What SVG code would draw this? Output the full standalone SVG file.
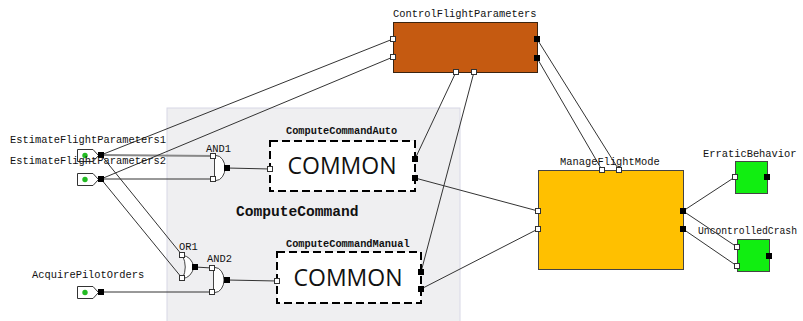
<svg xmlns="http://www.w3.org/2000/svg" width="803" height="321" viewBox="0 0 803 321">
  <style>
    .lbl { font-family: "Liberation Mono", "Courier New", monospace; font-size: 10.4px; fill: #111; }
    .blbl { font-family: "Liberation Mono", "Courier New", monospace; font-size: 10.3px; font-weight: bold; fill: #111; }
    .big { font-family: "Liberation Mono", "Courier New", monospace; font-size: 14.6px; font-weight: bold; fill: #111; }
    .common { font-family: "Open Sans", "Liberation Sans", sans-serif; font-size: 23px; fill: #111; text-anchor: middle; }
    .pi { fill: #fff; stroke: #333; stroke-width: 1; }
    .po { fill: #000; stroke: none; }
    .wire { fill: none; stroke: #333; stroke-width: 1; }
    .gate { fill: #fff; stroke: #444; stroke-width: 1; }
    .src { fill: #fff; stroke: #333; stroke-width: 1; }
    .dashbox { fill: #fff; stroke: #000; stroke-width: 2; stroke-dasharray: 8 4; }
  </style>

  <rect width="803" height="321" fill="#fff"/>

  <!-- container region -->
  <g id="ComputeCommand">
    <rect x="167" y="108" width="293" height="222" fill="#efeff1" stroke="#d8d8e6" stroke-width="1"/>
    <text class="big" x="236" y="216">ComputeCommand</text>
  </g>

  <!-- connectors -->
  <g id="connectors">
    <line x1="101" y1="155" x2="213" y2="156" stroke="#888" stroke-width="2"/>
    <line class="wire" x1="101" y1="155" x2="393" y2="39"/>
    <line class="wire" x1="101" y1="155" x2="182" y2="255"/>
    <line class="wire" x1="101" y1="179" x2="213" y2="179"/>
    <line class="wire" x1="101" y1="179" x2="393" y2="57"/>
    <line class="wire" x1="101" y1="179" x2="182" y2="278"/>
    <line class="wire" x1="101" y1="292" x2="212" y2="292"/>
    <line class="wire" x1="195" y1="267" x2="212" y2="268"/>
    <line class="wire" x1="227" y1="168" x2="270" y2="169"/>
    <line class="wire" x1="227" y1="280" x2="277" y2="281"/>
    <line class="wire" x1="456" y1="72" x2="415" y2="159"/>
    <line class="wire" x1="474" y1="72" x2="421" y2="272"/>
    <line class="wire" x1="415" y1="178" x2="538" y2="211"/>
    <line class="wire" x1="421" y1="289" x2="538" y2="229"/>
    <line class="wire" x1="537" y1="39" x2="619" y2="170"/>
    <line class="wire" x1="537" y1="58" x2="602" y2="170"/>
    <line class="wire" x1="683" y1="211" x2="735" y2="177"/>
    <line class="wire" x1="683" y1="211" x2="737" y2="247"/>
    <line class="wire" x1="683" y1="229" x2="737" y2="266"/>
  </g>

  <!-- sources -->
  <g id="EstimateFlightParameters1">
    <text class="lbl" x="10" y="143">EstimateFlightParameters1</text>
    <path class="src" d="M77.5,149.5 H93 L98.5,155.5 L93,161.5 H77.5 Z"/>
    <circle cx="85" cy="155.5" r="2.7" fill="#22bb22"/>
    <rect class="po" x="98" y="152" width="6" height="6"/>
  </g>
  <g id="EstimateFlightParameters2">
    <text class="lbl" x="10" y="164">EstimateFlightParameters2</text>
    <path class="src" d="M77.5,173.5 H93 L98.5,179.5 L93,185.5 H77.5 Z"/>
    <circle cx="85" cy="179.5" r="2.7" fill="#22bb22"/>
    <rect class="po" x="98" y="176" width="6" height="6"/>
  </g>
  <g id="AcquirePilotOrders">
    <text class="lbl" x="32" y="278">AcquirePilotOrders</text>
    <path class="src" d="M77.5,286.5 H93 L98.5,292.5 L93,298.5 H77.5 Z"/>
    <circle cx="85" cy="292.5" r="2.7" fill="#22bb22"/>
    <rect class="po" x="98" y="289" width="6" height="6"/>
  </g>

  <!-- gates -->
  <g id="AND1">
    <text class="lbl" x="206" y="152">AND1</text>
    <path class="gate" d="M214.5,155.5 H216 A9,12.5 0 0 1 216,180.5 H214.5 Z"/>
    <rect class="pi" x="210.5" y="153.5" width="5" height="5"/>
    <rect class="pi" x="210.5" y="176.5" width="5" height="5"/>
    <rect class="po" x="224" y="165" width="6" height="6"/>
  </g>
  <g id="OR1">
    <text class="lbl" x="179" y="250">OR1</text>
    <path class="gate" d="M182.5,255.5 Q191,256 194,267 Q191,278 182.5,278.5 Q188,267 182.5,255.5 Z"/>
    <rect class="pi" x="179.5" y="252.5" width="5" height="5"/>
    <rect class="pi" x="179.5" y="275.5" width="5" height="5"/>
    <rect class="po" x="192" y="264" width="6" height="6"/>
  </g>
  <g id="AND2">
    <text class="lbl" x="207" y="262">AND2</text>
    <path class="gate" d="M213.5,267.5 H215 A9,12.5 0 0 1 215,292.5 H213.5 Z"/>
    <rect class="pi" x="209.5" y="265.5" width="5" height="5"/>
    <rect class="pi" x="209.5" y="289.5" width="5" height="5"/>
    <rect class="po" x="224" y="277" width="6" height="6"/>
  </g>

  <!-- compute command sub-blocks -->
  <g id="ComputeCommandAuto">
    <text class="blbl" x="286" y="134">ComputeCommandAuto</text>
    <rect class="dashbox" x="270" y="141" width="145" height="50"/>
    <text class="common" x="342" y="174">COMMON</text>
    <rect class="pi" x="267.5" y="166.5" width="5" height="5"/>
    <rect class="po" x="412" y="156" width="6" height="6"/>
    <rect class="po" x="412" y="175" width="6" height="6"/>
  </g>
  <g id="ComputeCommandManual">
    <text class="blbl" x="286" y="247">ComputeCommandManual</text>
    <rect class="dashbox" x="277" y="252" width="144" height="51"/>
    <text class="common" x="348" y="286">COMMON</text>
    <rect class="pi" x="274.5" y="278.5" width="5" height="5"/>
    <rect class="po" x="418" y="269" width="6" height="6"/>
    <rect class="po" x="418" y="286" width="6" height="6"/>
  </g>

  <!-- main blocks -->
  <g id="ControlFlightParameters">
    <text class="lbl" x="393" y="17">ControlFlightParameters</text>
    <rect x="393.5" y="22.5" width="144" height="50" fill="#c55a11" stroke="#3a2410" stroke-width="1"/>
    <rect class="pi" x="390.5" y="36.5" width="5" height="5"/>
    <rect class="pi" x="390.5" y="54.5" width="5" height="5"/>
    <rect class="pi" x="453.5" y="69.5" width="5" height="5"/>
    <rect class="pi" x="471.5" y="69.5" width="5" height="5"/>
    <rect class="po" x="534" y="36" width="6" height="6"/>
    <rect class="po" x="534" y="55" width="6" height="6"/>
  </g>
  <g id="ManageFlightMode">
    <text class="lbl" x="560" y="165">ManageFlightMode</text>
    <rect x="538.5" y="170.5" width="145" height="99" fill="#ffc000" stroke="#444" stroke-width="1"/>
    <rect class="pi" x="599.5" y="167.5" width="5" height="5"/>
    <rect class="pi" x="616.5" y="167.5" width="5" height="5"/>
    <rect class="pi" x="535.5" y="208.5" width="5" height="5"/>
    <rect class="pi" x="535.5" y="226.5" width="5" height="5"/>
    <rect class="po" x="680" y="208" width="6" height="6"/>
    <rect class="po" x="680" y="226" width="6" height="6"/>
  </g>
  <g id="ErraticBehavior">
    <text class="lbl" x="703" y="157">ErraticBehavior</text>
    <rect x="735.5" y="161.5" width="32" height="32" fill="#11ee11" stroke="#444" stroke-width="1"/>
    <rect class="pi" x="732.5" y="174.5" width="5" height="5"/>
    <rect class="po" x="764" y="174" width="6" height="6"/>
  </g>
  <g id="UncontrolledCrash">
    <text class="lbl" x="698" y="234" textLength="99" lengthAdjust="spacingAndGlyphs">UncontrolledCrash</text>
    <rect x="737.5" y="239.5" width="32" height="32" fill="#11ee11" stroke="#444" stroke-width="1"/>
    <rect class="pi" x="734.5" y="244.5" width="5" height="5"/>
    <rect class="pi" x="734.5" y="263.5" width="5" height="5"/>
    <rect class="po" x="766" y="253" width="6" height="6"/>
  </g>
</svg>
